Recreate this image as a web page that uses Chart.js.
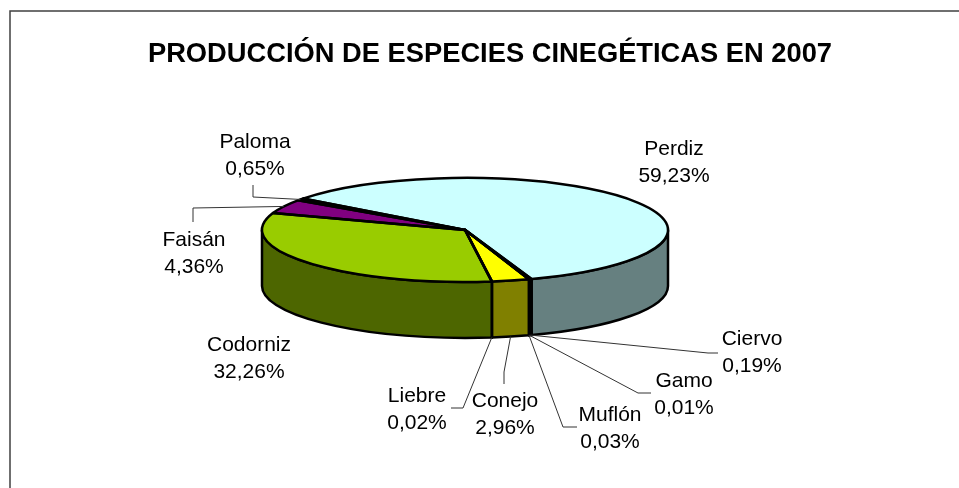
<!DOCTYPE html>
<html>
<head>
<meta charset="utf-8">
<style>
  html, body { margin: 0; padding: 0; background: #fff; overflow: hidden; }
  #wrap { position: relative; width: 959px; height: 488px; }
</style>
<script src="https://cdn.jsdelivr.net/npm/chart.js@4/dist/chart.umd.min.js"></script>
</head>
<body>
<div id="wrap"><canvas id="chart"></canvas></div>
<script>
const categories = ['Perdiz', 'Ciervo', 'Gamo', 'Muflón', 'Conejo', 'Liebre', 'Codorniz', 'Faisán', 'Paloma'];
const shares = [59.23, 0.19, 0.01, 0.03, 2.96, 0.02, 32.26, 4.36, 0.65];
const shareLabels = ['59,23%', '0,19%', '0,01%', '0,03%', '2,96%', '0,02%', '32,26%', '4,36%', '0,65%'];
const topColors = ['#ccffff', '#000080', '#ffffff', '#ffffff', '#ffff00', '#99ccff', '#99cc00', '#800080', '#cc0000'];
const wallColors = ['#668080', '#000040', '#808080', '#d0d0d0', '#808000', '#4d6680', '#4d6600', '#400040', '#660000'];

// label centres, then the bent leader running from the rim out to the label
const labelSpots = [[674, 162], [752, 352], [684, 394], [610, 428], [505, 414], [417, 409], [249, 358], [194, 253], [255, 155]];
const leaders = [
  null,
  [[708, 353], [718, 353]],
  [[638, 393], [651, 393]],
  [[563, 427], [577, 427]],
  [[504, 372], [504, 384]],
  [[463, 408], [451, 408]],
  null,
  [[193, 208], [193, 222]],
  [[253, 197], [253, 185]]
];

// flattening of the pie: the library draws a round pie, this squashes it
const CENTER_SHIFT = -25;
const RADIUS = 203;
const SQUASH = 52 / 203;
const DEPTH = 56;

function wallSpans(start, end) {
  const spans = [];
  for (let k = -1; k <= 1; k++) {
    const a = Math.max(start, k * 2 * Math.PI);
    const b = Math.min(end, k * 2 * Math.PI + Math.PI);
    if (b > a) spans.push([a, b]);
  }
  return spans;
}

const flatPie = {
  id: 'flatPie',
  beforeDraw(chart) {
    const ctx = chart.ctx;
    ctx.save();
    ctx.strokeStyle = '#404040';
    ctx.lineWidth = 1.5;
    ctx.strokeRect(10, 11, 1000, 1000);
    ctx.restore();
  },
  beforeDatasetsDraw(chart) {
    const ctx = chart.ctx;
    const arcs = chart.getDatasetMeta(0).data;
    const cx = arcs[0].x + CENTER_SHIFT;
    const cy = arcs[0].y;
    const rx = arcs[0].outerRadius;
    const ry = rx * SQUASH;
    ctx.save();
    ctx.lineWidth = 2.5;
    ctx.strokeStyle = '#000';
    ctx.lineJoin = 'round';
    arcs.forEach((arc, i) => {
      wallSpans(arc.startAngle, arc.endAngle).forEach(([a, b]) => {
        ctx.beginPath();
        ctx.ellipse(cx, cy, rx, ry, 0, a, b);
        ctx.ellipse(cx, cy + DEPTH, rx, ry, 0, b, a, true);
        ctx.closePath();
        ctx.fillStyle = wallColors[i];
        ctx.fill();
        ctx.stroke();
      });
    });
    ctx.restore();

    ctx.save();
    ctx.translate(cx, cy);
    ctx.scale(1, SQUASH);
    ctx.translate(-arcs[0].x, -cy);
  },
  afterDatasetsDraw(chart) {
    const ctx = chart.ctx;
    ctx.restore();
    const arcs = chart.getDatasetMeta(0).data;
    const cx = arcs[0].x + CENTER_SHIFT;
    const cy = arcs[0].y;
    const rx = arcs[0].outerRadius;
    const ry = rx * SQUASH;

    ctx.save();
    ctx.lineWidth = 2.5;
    ctx.strokeStyle = '#000';
    ctx.lineJoin = 'round';
    arcs.forEach(arc => {
      ctx.beginPath();
      ctx.moveTo(cx, cy);
      ctx.ellipse(cx, cy, rx, ry, 0, arc.startAngle, arc.endAngle);
      ctx.closePath();
      ctx.stroke();
    });

    ctx.lineWidth = 1;
    ctx.strokeStyle = '#333';
    arcs.forEach((arc, i) => {
      if (!leaders[i]) return;
      const mid = (arc.startAngle + arc.endAngle) / 2;
      const front = Math.sin(mid) > 0;
      ctx.beginPath();
      ctx.moveTo(cx + rx * Math.cos(mid), cy + ry * Math.sin(mid) + (front ? DEPTH : 0));
      leaders[i].forEach(p => ctx.lineTo(p[0], p[1]));
      ctx.stroke();
    });

    ctx.fillStyle = '#000';
    ctx.font = '21px "Liberation Sans", Arial, sans-serif';
    ctx.textAlign = 'center';
    ctx.textBaseline = 'middle';
    categories.forEach((name, i) => {
      const [x, y] = labelSpots[i];
      ctx.fillText(name, x, y - 13);
      ctx.fillText(shareLabels[i], x, y + 14);
    });
    ctx.restore();
  }
};

new Chart(document.getElementById('chart'), {
  type: 'pie',
  data: {
    labels: categories,
    datasets: [{
      data: shares,
      backgroundColor: topColors,
      borderWidth: 0,
      radius: RADIUS,
      clip: false
    }]
  },
  options: {
    responsive: true,
    maintainAspectRatio: false,
    animation: false,
    rotation: -53,
    layout: { padding: { left: 21, bottom: 109 } },
    plugins: {
      legend: { display: false },
      tooltip: { enabled: false },
      title: {
        display: true,
        text: 'PRODUCCIÓN DE ESPECIES CINEGÉTICAS EN 2007',
        color: '#000',
        font: { family: '"Liberation Sans", Arial, sans-serif', size: 27.3, weight: 'bold' },
        padding: { top: 38, bottom: 10 }
      }
    }
  },
  plugins: [flatPie]
});
</script>
</body>
</html>
